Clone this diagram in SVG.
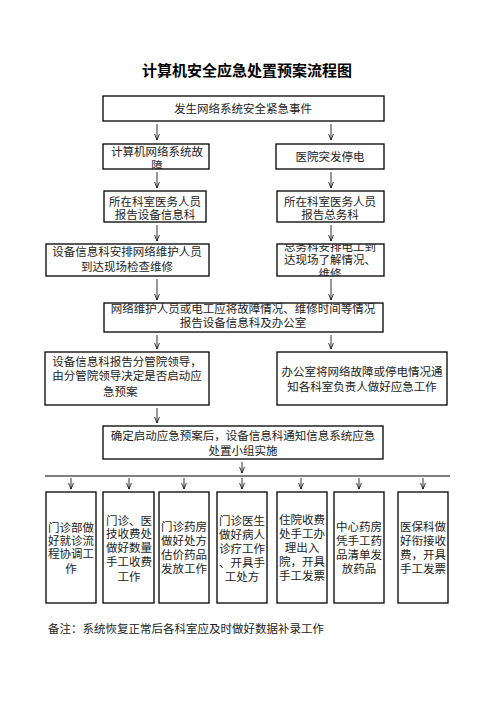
<svg xmlns="http://www.w3.org/2000/svg" width="496" height="702" viewBox="0 0 496 702">
<style>
.box{fill:#fff;stroke:#000;stroke-width:1.3}
.t{font-family:"Liberation Serif","Noto Sans CJK SC",serif;font-size:11.5px;fill:#222;text-anchor:middle}
.title{font-family:"Liberation Sans","Noto Sans CJK SC",sans-serif;font-size:15px;font-weight:bold;fill:#000;text-anchor:middle}
.c{stroke:#000;stroke-width:0.8;fill:none}
</style>
<defs>
<marker id="ah" viewBox="0 0 8 6" refX="8" refY="3" markerWidth="8" markerHeight="6" markerUnits="userSpaceOnUse" orient="auto">
<path d="M2,0.6 L8,3 L2,5.4" fill="none" stroke="#000" stroke-width="0.8"/>
</marker>
<clipPath id="cl1"><rect x="277" y="244" width="107" height="32"/></clipPath>
<clipPath id="cl2"><rect x="103" y="144" width="106" height="25"/></clipPath>
</defs>
<rect width="496" height="702" fill="#fff"/>
<text class="title" x="247" y="76">计算机安全应急处置预案流程图</text>

<g id="connectors">
<line class="c" x1="157" y1="124" x2="157" y2="140" marker-end="url(#ah)"/>
<line class="c" x1="331" y1="124" x2="331" y2="140" marker-end="url(#ah)"/>
<line class="c" x1="157" y1="172" x2="157" y2="188" marker-end="url(#ah)"/>
<line class="c" x1="331" y1="172" x2="331" y2="188" marker-end="url(#ah)"/>
<line class="c" x1="157" y1="225" x2="157" y2="241" marker-end="url(#ah)"/>
<line class="c" x1="331" y1="225" x2="331" y2="241" marker-end="url(#ah)"/>
<line class="c" x1="157" y1="279" x2="157" y2="300" marker-end="url(#ah)"/>
<line class="c" x1="331" y1="279" x2="331" y2="300" marker-end="url(#ah)"/>
<line class="c" x1="157" y1="335" x2="157" y2="349" marker-end="url(#ah)"/>
<line class="c" x1="331" y1="335" x2="331" y2="349" marker-end="url(#ah)"/>
<line class="c" x1="157" y1="408" x2="157" y2="423" marker-end="url(#ah)"/>
<line class="c" x1="242" y1="462" x2="242" y2="473" marker-end="url(#ah)"/>
<line x1="45" y1="476" x2="450" y2="476" stroke="#000" stroke-width="1.2"/>
<line class="c" x1="71" y1="478" x2="71" y2="489" marker-end="url(#ah)"/>
<line class="c" x1="129" y1="478" x2="129" y2="489" marker-end="url(#ah)"/>
<line class="c" x1="184" y1="478" x2="184" y2="489" marker-end="url(#ah)"/>
<line class="c" x1="242" y1="478" x2="242" y2="489" marker-end="url(#ah)"/>
<line class="c" x1="301" y1="478" x2="301" y2="489" marker-end="url(#ah)"/>
<line class="c" x1="359" y1="478" x2="359" y2="489" marker-end="url(#ah)"/>
<line class="c" x1="423" y1="478" x2="423" y2="489" marker-end="url(#ah)"/>
</g>

<g id="n1"><rect class="box" x="103" y="96" width="281" height="25"/><text class="t" x="243" y="113">发生网络系统安全紧急事件</text></g>
<g id="n2"><rect class="box" x="103" y="144" width="106" height="25"/><g clip-path="url(#cl2)"><text class="t" x="157" y="156">计算机网络系统故</text><text class="t" x="157" y="170">障</text></g></g>
<g id="n3"><rect class="box" x="276" y="144" width="108" height="25"/><text class="t" x="330" y="161">医院突发停电</text></g>
<g id="n4"><rect class="box" x="104" y="191" width="102" height="31"/><text class="t" x="155" y="206">所在科室医务人员</text><text class="t" x="155" y="219">报告设备信息科</text></g>
<g id="n5"><rect class="box" x="277" y="191" width="107" height="31"/><text class="t" x="330" y="206">所在科室医务人员</text><text class="t" x="330" y="219">报告总务科</text></g>
<g id="n6"><rect class="box" x="46" y="244" width="163" height="32"/><text class="t" x="127" y="256">设备信息科安排网络维护人员</text><text class="t" x="127" y="271">到达现场检查维修</text></g>
<g id="n7"><rect class="box" x="277" y="244" width="107" height="32"/><g clip-path="url(#cl1)"><text class="t" x="330" y="251">总务科安排电工到</text><text class="t" x="330" y="264">达现场了解情况、</text><text class="t" x="330" y="278">维修</text></g></g>
<g id="n8"><rect class="box" x="104" y="303" width="279" height="29"/><text class="t" x="243" y="313">网络维护人员或电工应将故障情况、维修时间等情况</text><text class="t" x="243" y="327">报告设备信息科及办公室</text></g>
<g id="n9"><rect class="box" x="45" y="352" width="164" height="53"/><text class="t" x="127" y="366">设备信息科报告分管院领导，</text><text class="t" x="127" y="380">由分管院领导决定是否启动应</text><text class="t" x="103" y="396" style="text-anchor:start">急预案</text></g>
<g id="n10"><rect class="box" x="277" y="352" width="170" height="53"/><text class="t" x="362" y="376">办公室将网络故障或停电情况通</text><text class="t" x="362" y="391">知各科室负责人做好应急工作</text></g>
<g id="n11"><rect class="box" x="103" y="426" width="280" height="33"/><text class="t" x="243" y="440">确定启动应急预案后，设备信息科通知信息系统应急</text><text class="t" x="243" y="455">处置小组实施</text></g>

<g id="n12"><rect class="box" x="46" y="492" width="50" height="111"/><text class="t" x="71" y="532">门诊部做</text><text class="t" x="71" y="545">好就诊流</text><text class="t" x="71" y="558">程协调工</text><text class="t" x="71" y="573">作</text></g>
<g id="n13"><rect class="box" x="103" y="492" width="51" height="111"/><text class="t" x="129" y="525">门诊、医</text><text class="t" x="129" y="538">技收费处</text><text class="t" x="129" y="552">做好数量</text><text class="t" x="129" y="566">手工收费</text><text class="t" x="129" y="581">工作</text></g>
<g id="n14"><rect class="box" x="159" y="492" width="50" height="111"/><text class="t" x="184" y="531">门诊药房</text><text class="t" x="184" y="545">做好处方</text><text class="t" x="184" y="559">估价药品</text><text class="t" x="184" y="573">发放工作</text></g>
<g id="n15"><rect class="box" x="217" y="492" width="50" height="111"/><text class="t" x="242" y="525">门诊医生</text><text class="t" x="242" y="539">做好病人</text><text class="t" x="242" y="553">诊疗工作</text><text class="t" x="242" y="567">、开具手</text><text class="t" x="242" y="581">工处方</text></g>
<g id="n16"><rect class="box" x="277" y="492" width="50" height="111"/><text class="t" x="302" y="524">住院收费</text><text class="t" x="302" y="538">处手工办</text><text class="t" x="302" y="552">理出入</text><text class="t" x="302" y="566">院，开具</text><text class="t" x="302" y="580">手工发票</text></g>
<g id="n17"><rect class="box" x="334" y="492" width="50" height="111"/><text class="t" x="359" y="531">中心药房</text><text class="t" x="359" y="545">凭手工药</text><text class="t" x="359" y="559">品清单发</text><text class="t" x="359" y="573">放药品</text></g>
<g id="n18"><rect class="box" x="398" y="492" width="50" height="111"/><text class="t" x="423" y="531">医保科做</text><text class="t" x="423" y="545">好衔接收</text><text class="t" x="423" y="559">费，开具</text><text class="t" x="423" y="573">手工发票</text></g>

<text class="t" x="48" y="633" style="text-anchor:start">备注：系统恢复正常后各科室应及时做好数据补录工作</text>
</svg>
